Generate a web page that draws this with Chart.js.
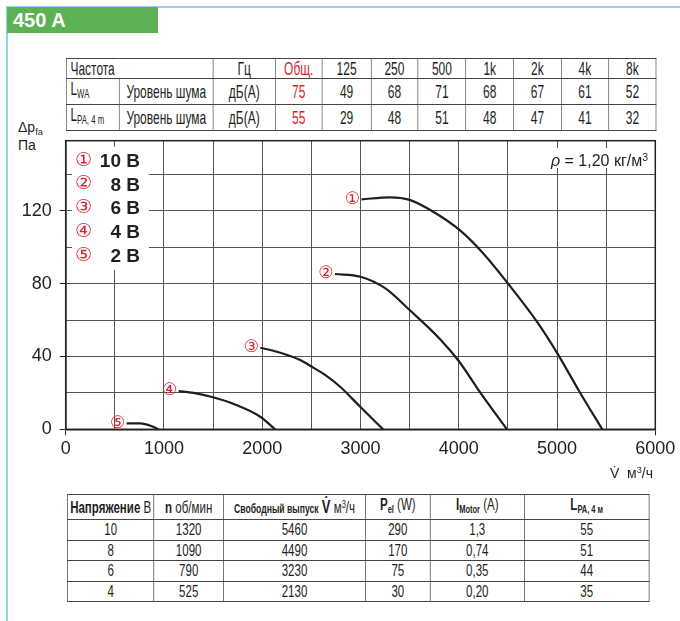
<!DOCTYPE html>
<html>
<head>
<meta charset="utf-8">
<script src="https://cdn.jsdelivr.net/npm/chart.js"></script>
<style>
  body { margin: 0; width: 680px; height: 621px; position: relative; overflow: hidden; background: #fff;
         font-family: 'Liberation Sans', Arial, sans-serif; color: #231f20; }
  .frame { position: absolute; left: 6px; top: 6px; right: 0; bottom: 0;
           border-left: 2px solid #8fd3f0; border-top: 2px solid #8fd3f0; }
  .badge { position: absolute; left: 7px; top: 7px; width: 151px; height: 26px; background: #5db155;
           color: #fff; font-weight: bold; font-size: 20px; line-height: 27px; padding-left: 6px; box-sizing: border-box; }
  table { position: absolute; border-collapse: collapse; table-layout: fixed; transform-origin: 0 0; }
  td { padding: 0; white-space: nowrap; overflow: hidden; text-align: center; border: 1px solid #444; }
  #t1 { left: 66px; top: 58px; transform: scaleX(.63); font-size: 19px; }
  #t1 td { height: 19.4px; line-height: 19px; border-left-width: 1.6px; border-right-width: 1.6px; }
  #t1 td.l { text-align: left; padding-left: 6px; }
  #t1 .red { color: #d8232f; }
  #t2 { left: 67px; top: 494px; transform: scaleX(.72); font-size: 16px; }
  #t2 td { height: 19.5px; line-height: 19px; border-left-width: 1.4px; border-right-width: 1.4px; }
  sub { font-size: 65%; vertical-align: -3px; }
  sup { font-size: 65%; vertical-align: 5px; }
  #c { position: absolute; left: 0; top: 110px; }
  .ytitle { position: absolute; left: 18px; font-size: 14px; line-height: 16px; }
  .xtitle { position: absolute; left: 610px; top: 465px; font-size: 14px; }
  .rho { position: absolute; left: 544px; top: 148px; width: 104px; height: 20px; background: #fff;
         font-size: 16px; line-height: 20px; text-align: right; padding-right: 2px; }
</style>
</head>
<body>
<div class="frame"></div>
<div class="badge">450 A</div>

<table id="t1"></table>

<div class="ytitle" style="top:119px">Δp<sub>fa</sub></div>
<div class="ytitle" style="top:137px">Па</div>
<canvas id="c" width="680" height="380"></canvas>
<div class="rho"><i>ρ</i> = 1,20 кг/м<sup>3</sup></div>
<div class="xtitle">V̇&nbsp; м<sup>3</sup>/ч</div>

<table id="t2"></table>

<script>
// noise table
const freqLabels = ['125', '250', '500', '1k', '2k', '4k', '8k'];
const lwaTotal = 75;
const lpaTotal = 55;
const lwaBands = [49, 68, 71, 68, 67, 61, 52];
const lpaBands = [29, 48, 51, 48, 47, 41, 32];

// operating points table
const opVoltage = [10, 8, 6, 4];
const opSpeed = [1320, 1090, 790, 525];
const opFlow = [5460, 4490, 3230, 2130];
const opPower = [290, 170, 75, 30];
const opCurrent = ['1,3', '0,74', '0,35', '0,20'];
const opLpa = [55, 51, 44, 35];

// fan curves, flow m3/h vs pressure Pa
const marks = ['①', '②', '③', '④', '⑤'];
const voltages = ['10 В', '8 В', '6 В', '4 В', '2 В'];
const flow10 = [3010, 3300, 3500, 3740, 4010, 4250, 4500, 4790, 5000, 5230, 5460];
const press10 = [126.3, 127.4, 126, 119.5, 109.4, 96.6, 80.1, 59.5, 42, 20.5, 0];
const flow8 = [2740, 3000, 3250, 3500, 3810, 4000, 4230, 4490];
const press8 = [85.3, 83.8, 77.5, 65.5, 49.5, 37.5, 19.3, 0];
const flow6 = [1980, 2150, 2380, 2500, 2650, 2790, 3000, 3230];
const press6 = [44.8, 42.6, 38.2, 34.5, 29.5, 23.5, 12.2, 0];
const flow4 = [1150, 1300, 1500, 1710, 1980, 2130];
const press4 = [21, 20, 17.6, 13.9, 6.9, 0];
const flow2 = [620, 760, 870, 945];
const press2 = [3.3, 3.2, 1.8, 0];

const yTicks = [0, 20, 40, 60, 80, 100, 120, 140];

// ---- tables ----
function colgroup(table, widths, scale) {
  const total = widths.reduce((s, w) => s + w, 0);
  table.style.width = (total / scale).toFixed(1) + 'px';
  return '<colgroup>' + widths.map(w => `<col style="width:${(w / scale).toFixed(1)}px">`).join('') + '</colgroup>';
}

const t1 = document.getElementById('t1');
let h1 = colgroup(t1, [53, 94, 62, 47, 48.7, 47, 48, 47.6, 47.7, 47.3, 47.7], 0.63);
h1 += '<tr><td class="l" colspan="2">Частота</td><td>Гц</td><td class="red">Общ.</td>' +
      freqLabels.map(f => `<td>${f}</td>`).join('') + '</tr>';
h1 += `<tr><td class="l">L<sub>WA</sub></td><td>Уровень шума</td><td>дБ(A)</td><td class="red">${lwaTotal}</td>` +
      lwaBands.map(v => `<td>${v}</td>`).join('') + '</tr>';
h1 += `<tr><td class="l">L<sub>PA, 4 m</sub></td><td>Уровень шума</td><td>дБ(A)</td><td class="red">${lpaTotal}</td>` +
      lpaBands.map(v => `<td>${v}</td>`).join('') + '</tr>';
t1.innerHTML = h1;

const t2 = document.getElementById('t2');
let h2 = colgroup(t2, [86.6, 69.4, 142.3, 64.3, 94.7, 124.3], 0.72);
h2 += '<tr><td><b>Напряжение</b> В</td><td><b>n</b> об/мин</td>' +
      '<td><b style="font-size:12px">Свободный выпуск</b> <b style="font-size:18px">V̇</b> м<sup>3</sup>/ч</td>' +
      '<td><b>P<sub>el</sub></b> (W)</td><td><b>I<sub>Motor</sub></b> (A)</td><td><b>L<sub>PA, 4 м</sub></b></td></tr>';
opVoltage.forEach((v, i) => {
  h2 += `<tr><td>${v}</td><td>${opSpeed[i]}</td><td>${opFlow[i]}</td><td>${opPower[i]}</td>` +
        `<td>${opCurrent[i]}</td><td>${opLpa[i]}</td></tr>`;
});
t2.innerHTML = h2;

// ---- chart ----
const series = [[flow10, press10], [flow8, press8], [flow6, press6], [flow4, press4], [flow2, press2]];

const decor = {
  id: 'decor',
  beforeDatasetsDraw(chart) {
    const { ctx, chartArea: a } = chart;
    ctx.save();
    ctx.strokeStyle = '#222';
    ctx.lineWidth = 1.5;
    ctx.strokeRect(a.left, a.top, a.right - a.left, a.bottom - a.top);

    // legend box over the grid
    ctx.fillStyle = '#fff';
    ctx.fillRect(a.left + 6.3, a.top + 6, 77, 123);
    ctx.textBaseline = 'middle';
    voltages.forEach((v, i) => {
      const yy = a.top + 20 + i * 23.75;
      ctx.fillStyle = '#d8232f';
      ctx.font = '19px "DejaVu Sans"';
      ctx.textAlign = 'center';
      ctx.fillText(marks[i], a.left + 17.8, yy);
      ctx.fillStyle = '#231f20';
      ctx.font = 'bold 19px "Liberation Sans", Arial';
      ctx.textAlign = 'right';
      ctx.fillText(v, a.left + 74.3, yy + 1);
    });
    ctx.restore();
  },
  afterDatasetsDraw(chart) {
    const { ctx, scales: { x, y } } = chart;
    ctx.save();
    ctx.font = '17px "DejaVu Sans"';
    ctx.fillStyle = '#d8232f';
    ctx.textAlign = 'center';
    ctx.textBaseline = 'middle';
    chart.data.datasets.forEach((ds, i) => {
      const p = ds.data[0];
      ctx.fillText(marks[i], x.getPixelForValue(p.x) - 9, y.getPixelForValue(p.y));
    });
    ctx.restore();
  }
};

new Chart(document.getElementById('c'), {
  type: 'scatter',
  data: {
    datasets: series.map(([fx, py], i) => ({
      label: voltages[i],
      data: fx.map((v, k) => ({ x: v, y: py[k] })),
      showLine: true,
      borderColor: '#1e1e1e',
      borderWidth: 2.2,
      pointRadius: 0,
      cubicInterpolationMode: 'monotone'
    }))
  },
  options: {
    responsive: false,
    animation: false,
    devicePixelRatio: 1,
    layout: { padding: { top: 30.7, right: 24.7, left: 0, bottom: 0 } },
    plugins: { legend: { display: false }, tooltip: { enabled: false } },
    scales: {
      x: {
        type: 'linear', min: 0, max: 6000,
        afterFit(s) { s.height = 60.7; },
        ticks: {
          stepSize: 500, autoSkip: false, maxRotation: 0, padding: 3,
          color: '#222', font: { size: 18, family: "'Liberation Sans', Arial" },
          callback: v => (v % 1000 === 0 ? String(v) : '')
        },
        grid: {
          color: '#555', lineWidth: 1, tickLength: 6,
          tickColor: c => (c.tick && (c.tick.value === 0 || c.tick.value === 6000) ? '#222' : 'rgba(0,0,0,0)')
        },
        border: { color: '#222', width: 1.5 }
      },
      y: {
        min: 0, max: 158.5,
        afterFit(s) { s.width = 65.7; },
        afterBuildTicks(s) { s.ticks = yTicks.map(v => ({ value: v })); },
        ticks: {
          padding: 8, color: '#222', font: { size: 18, family: "'Liberation Sans', Arial" },
          callback: v => (v % 40 === 0 ? String(v) : '')
        },
        grid: {
          color: '#555', lineWidth: 1, tickLength: 6,
          tickColor: c => (c.tick && c.tick.value % 40 === 0 ? '#222' : 'rgba(0,0,0,0)')
        },
        border: { color: '#222', width: 1.5 }
      }
    }
  },
  plugins: [decor]
});
</script>
</body>
</html>
